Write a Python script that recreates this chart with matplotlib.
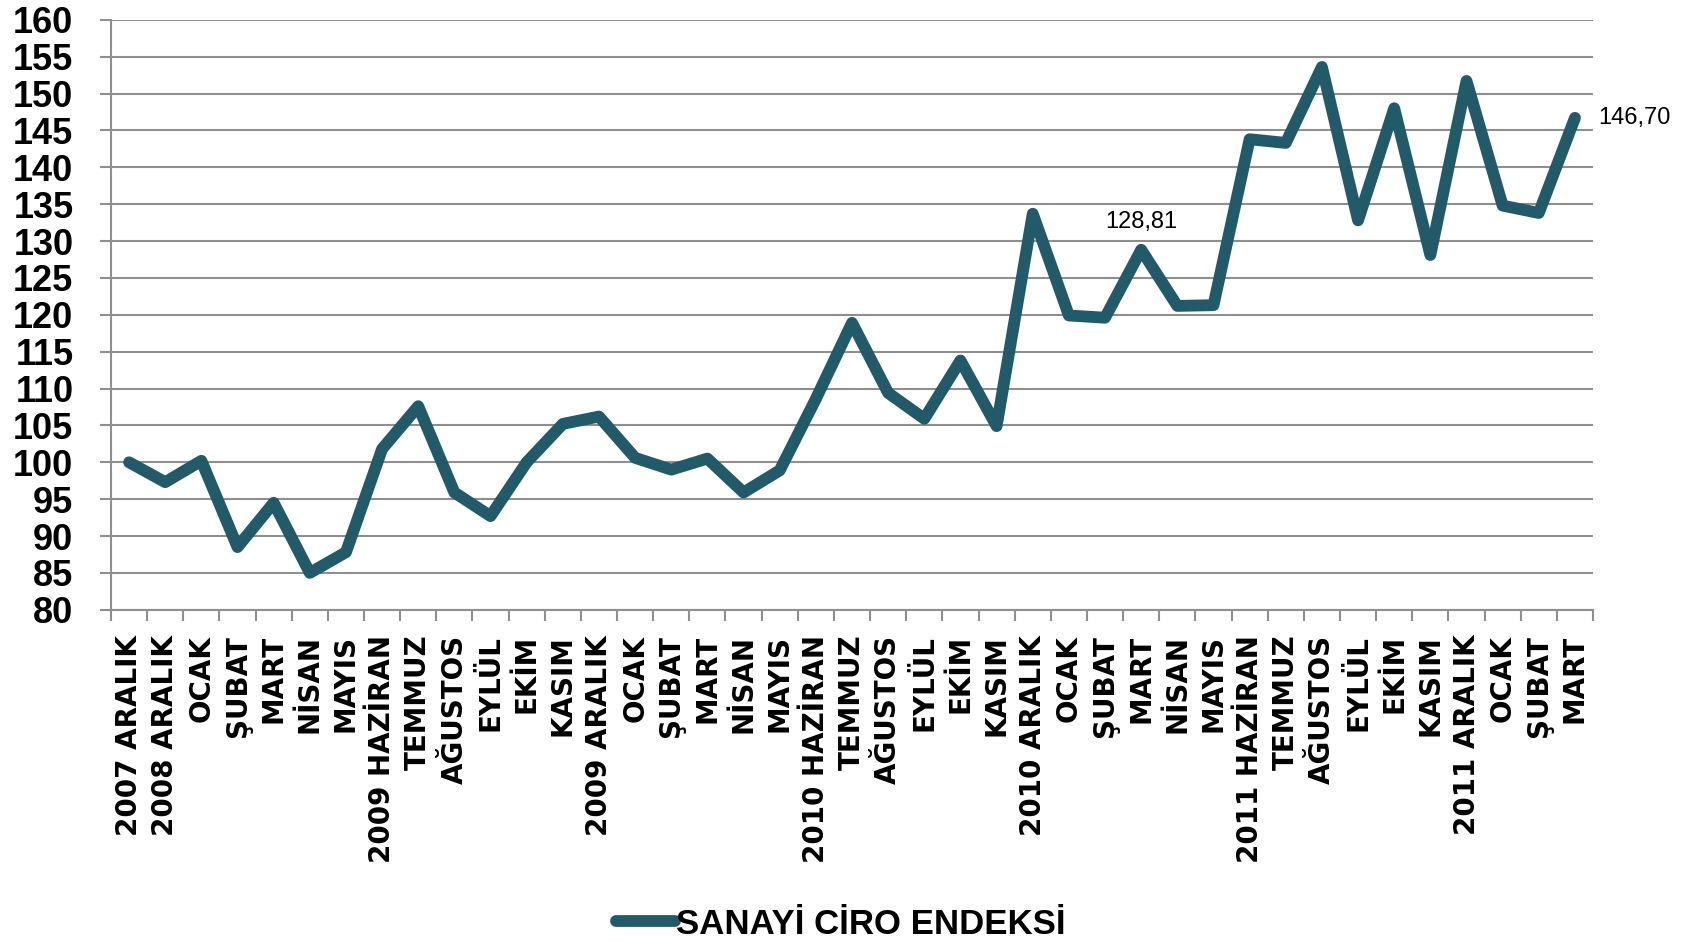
import matplotlib
matplotlib.use("Agg")
import matplotlib.pyplot as plt
from matplotlib import font_manager as fm

categories = ["2007 ARALIK", "2008 ARALIK", "OCAK", "ŞUBAT", "MART", "NİSAN", "MAYIS",
              "2009 HAZİRAN", "TEMMUZ", "AĞUSTOS", "EYLÜL", "EKİM", "KASIM",
              "2009 ARALIK", "OCAK", "ŞUBAT", "MART", "NİSAN", "MAYIS",
              "2010 HAZİRAN", "TEMMUZ", "AĞUSTOS", "EYLÜL", "EKİM", "KASIM",
              "2010 ARALIK", "OCAK", "ŞUBAT", "MART", "NİSAN", "MAYIS",
              "2011 HAZİRAN", "TEMMUZ", "AĞUSTOS", "EYLÜL", "EKİM", "KASIM",
              "2011 ARALIK", "OCAK", "ŞUBAT", "MART"]
values = [100.0, 97.3, 100.2, 88.5, 94.5, 85.0, 87.8,
          101.8, 107.6, 95.9, 92.7, 100.0, 105.2,
          106.2, 100.6, 99.0, 100.5, 95.9, 98.9,
          108.6, 118.9, 109.4, 105.9, 113.8, 104.9,
          133.7, 119.9, 119.6, 128.81, 121.2, 121.3,
          143.8, 143.3, 153.6, 132.8, 148.0, 128.1,
          151.7, 134.8, 133.8, 146.70]
series_name = "SANAYİ CİRO ENDEKSİ"
annotated = {28: "128,81", 40: "146,70"}
yticks = list(range(80, 165, 5))

font = "Liberation Sans"

color = "#235a69"
grid_c = "#8f8f8f"

fig = plt.figure(figsize=(16.92, 9.41), dpi=100)
ax = fig.add_axes([0.0656, 0.352, 0.9415 - 0.0656, 0.979 - 0.352])

x = list(range(len(categories)))
ax.plot(x, values, color=color, lw=8.5, solid_capstyle="round",
        solid_joinstyle="round", label=series_name, zorder=3)

ax.set_xlim(-0.5, len(categories) - 0.5)
ax.set_ylim(80, 160)
ax.set_yticks(yticks)
ax.set_yticklabels([str(v) for v in yticks], fontfamily=font,
                   fontweight="bold", fontsize=26)
ax.yaxis.grid(True, color=grid_c, lw=1.5, zorder=0)
ax.set_axisbelow(True)

# x ticks at category boundaries, labels at centres
ax.set_xticks([i - 0.5 for i in range(len(categories) + 1)])
ax.set_xticklabels([])
ax.set_xticks(x, minor=True)
ax.set_xticklabels(categories, minor=True, rotation=90, fontfamily="DejaVu Sans",
                   fontweight="bold", fontsize=20, va="top", ha="center")
ax.tick_params(axis="x", which="minor", length=0, pad=18)
ax.tick_params(axis="x", which="major", length=8, color=grid_c, width=1.5)
ax.tick_params(axis="y", length=8, color=grid_c, width=1.5, pad=19)

for s in ("top", "right"):
    ax.spines[s].set_visible(False)
for s in ("left", "bottom"):
    ax.spines[s].set_color(grid_c)
    ax.spines[s].set_linewidth(1.5)

for i, lab in annotated.items():
    if i == len(categories) - 1:
        ax.annotate(lab, (i, values[i]), xytext=(17, 0), textcoords="offset points",
                    ha="left", va="center", fontfamily=font, fontsize=17)
    else:
        ax.annotate(lab, (i, values[i]), xytext=(0, 12), textcoords="offset points",
                    ha="center", va="bottom", fontfamily=font, fontsize=17)

leg = fig.legend(loc="center", bbox_to_anchor=(0.497, 0.018), frameon=False,
                 handlelength=1.7, handletextpad=0.05,
                 prop={"family": font, "weight": "bold", "size": 25})

fig.savefig("out.png", dpi=100)
